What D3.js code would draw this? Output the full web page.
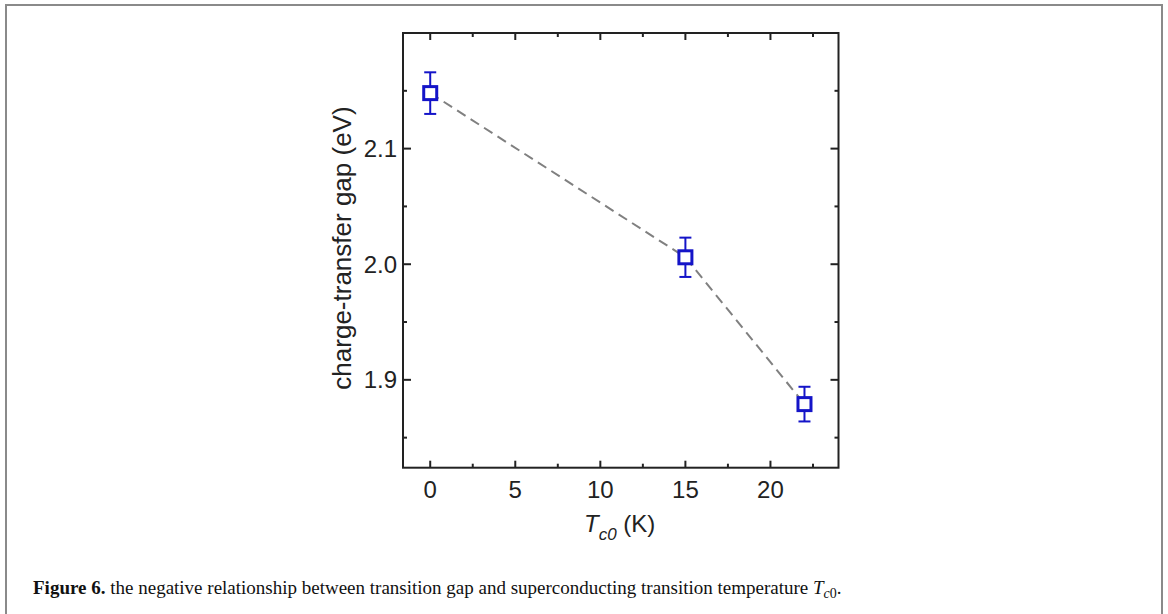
<!DOCTYPE html>
<html><head><meta charset="utf-8">
<script src="https://cdn.jsdelivr.net/npm/d3@7"></script>
<style>html,body{margin:0;padding:0;background:#fff;}</style>
</head><body>
<svg id="c" width="1168" height="614"></svg>
<script>
const tc0 = [0, 15, 22];
const gap = [2.148, 2.006, 1.879];
const gapErr = [0.018, 0.017, 0.015];
const xTicks = [0, 5, 10, 15, 20];
const yTicks = [1.9, 2.0, 2.1];
const xMinor = [2.5, 7.5, 12.5, 17.5, 22.5];
const yMinor = [1.85, 1.95, 2.05, 2.15];

const svg = d3.select("#c");
// figure border
svg.append("rect").attr("x",6).attr("y",5).attr("width",1156).attr("height",640)
  .attr("fill","none").attr("stroke","#8a8a8a").attr("stroke-width",2);

const L=403, R=838.5, T=33, B=467.7;
const x = d3.scaleLinear().domain([-1.6, 24.0]).range([L, R]);
const y = d3.scaleLinear().domain([1.824, 2.2]).range([B, T]);
const font = "'Liberation Sans', Arial, sans-serif";

const g = svg.append("g");
function xt(vals, len){
  vals.forEach(v=>{
    g.append("line").attr("x1",x(v)).attr("x2",x(v)).attr("y1",B).attr("y2",B-len).attr("stroke","#222").attr("stroke-width",2);
    g.append("line").attr("x1",x(v)).attr("x2",x(v)).attr("y1",T).attr("y2",T+len).attr("stroke","#222").attr("stroke-width",2);
  });
}
function yt(vals, len){
  vals.forEach(v=>{
    g.append("line").attr("y1",y(v)).attr("y2",y(v)).attr("x1",L).attr("x2",L+len).attr("stroke","#222").attr("stroke-width",2);
    g.append("line").attr("y1",y(v)).attr("y2",y(v)).attr("x1",R).attr("x2",R-len).attr("stroke","#222").attr("stroke-width",2);
  });
}
xt(xTicks,7); xt(xMinor,4); yt(yTicks,8); yt(yMinor,4);

g.append("rect").attr("x",L).attr("y",T).attr("width",R-L).attr("height",B-T)
  .attr("fill","none").attr("stroke","#222").attr("stroke-width",2);

g.selectAll(".xl").data(xTicks).join("text").attr("x",d=>x(d)).attr("y",498)
  .attr("text-anchor","middle").attr("font-family",font).attr("font-size",24).attr("fill","#222").text(d=>d);
g.selectAll(".yl").data(yTicks).join("text").attr("x",397).attr("y",d=>y(d)).attr("dy","0.36em")
  .attr("text-anchor","end").attr("font-family",font).attr("font-size",24).attr("fill","#222").text(d=>d.toFixed(1));

const xl = g.append("text").attr("x",584).attr("y",532).attr("font-family",font).attr("font-size",24).attr("fill","#222");
xl.append("tspan").attr("font-style","italic").text("T");
xl.append("tspan").attr("font-style","italic").attr("font-size",17).attr("dy",8).text("c0");
xl.append("tspan").attr("dy",-8).text(" (K)");

g.append("text").attr("transform","translate(351,248) rotate(-90)").attr("text-anchor","middle")
  .attr("font-family",font).attr("font-size",26).attr("fill","#222").text("charge-transfer gap (eV)");

const pts = tc0.map((d,i)=>[d,gap[i]]);
g.append("path").attr("d", d3.line().x(d=>x(d[0])).y(d=>y(d[1]))(pts))
  .attr("fill","none").attr("stroke","#808080").attr("stroke-width",2).attr("stroke-dasharray","10,6");

const blue = "#1414c8";
pts.forEach((p,i)=>{
  const cx=x(p[0]), cy=y(p[1]), t=y(p[1]+gapErr[i]), b=y(p[1]-gapErr[i]);
  g.append("line").attr("x1",cx).attr("x2",cx).attr("y1",t).attr("y2",b).attr("stroke",blue).attr("stroke-width",2);
  [t,b].forEach(yy=>g.append("line").attr("x1",cx-6).attr("x2",cx+6).attr("y1",yy).attr("y2",yy).attr("stroke",blue).attr("stroke-width",2));
  g.append("rect").attr("x",cx-6.5).attr("y",cy-6.5).attr("width",13).attr("height",13)
    .attr("fill","#fff").attr("stroke",blue).attr("stroke-width",3);
});

const serif = "'Liberation Serif','Times New Roman',serif";
const cap = svg.append("text").attr("x",33).attr("y",594).attr("font-family",serif).attr("font-size",19).attr("fill","#111");
cap.append("tspan").attr("font-weight","bold").text("Figure 6.");
cap.append("tspan").text(" the negative relationship between transition gap and superconducting transition temperature ");
cap.append("tspan").attr("font-style","italic").text("T");
cap.append("tspan").attr("font-style","italic").attr("font-size",14).attr("dy",4).text("c");
cap.append("tspan").attr("font-size",14).text("0");
cap.append("tspan").attr("dy",-4).text(".");
</script>
</body></html>
